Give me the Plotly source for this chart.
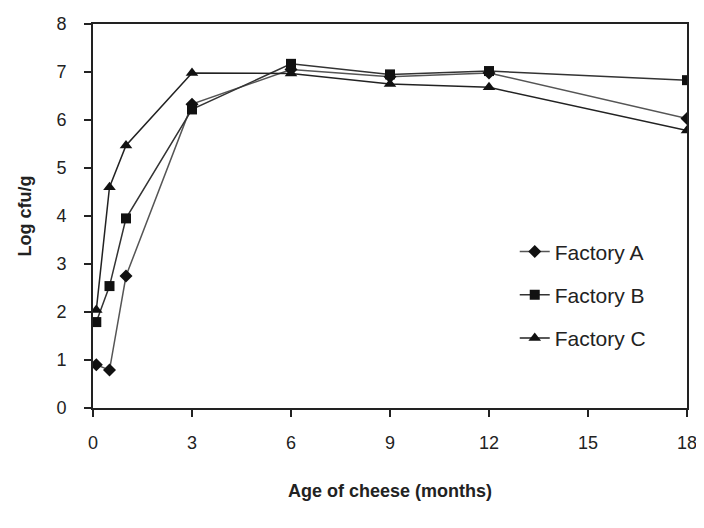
import plotly.graph_objects as go

months = [0.1, 0.5, 1, 3, 6, 9, 12, 18]
factory_a = [0.9, 0.79, 2.75, 6.33, 7.05, 6.9, 6.98, 6.03]
factory_b = [1.79, 2.54, 3.95, 6.22, 7.17, 6.95, 7.02, 6.83]
factory_c = [2.04, 4.6, 5.47, 6.98, 6.97, 6.75, 6.68, 5.78]
x_ticks = [0, 3, 6, 9, 12, 15, 18]
y_ticks = [0, 1, 2, 3, 4, 5, 6, 7, 8]

FONT = "Liberation Sans"

series = [
    ("Factory A", factory_a, "diamond", 10, "#555555"),
    ("Factory B", factory_b, "square", 10, "#333333"),
    ("Factory C", factory_c, "triangle-up", 11, "#222222"),
]

fig = go.Figure()
for name, vals, sym, size, lc in series:
    fig.add_trace(go.Scatter(
        x=months, y=vals, name=name, mode="lines+markers",
        legendgroup=name,
        line=dict(color=lc, width=1.5),
        marker=dict(symbol=sym, size=size, color="#111111"),
    ))

fig.update_layout(
    width=704, height=528,
    margin=dict(l=85, r=25, t=16, b=128, autoexpand=False),
    paper_bgcolor="white", plot_bgcolor="white",
    font=dict(family=FONT, color="#222222", size=17),
    legend=dict(
        x=0.71, y=0.46, xanchor="left", yanchor="top",
        bgcolor="rgba(0,0,0,0)", font=dict(size=21, family=FONT),
        tracegroupgap=13, traceorder="grouped",
    ),
    xaxis=dict(
        range=[0, 18], tickvals=x_ticks, ticktext=[str(t) for t in x_ticks],
        showgrid=False, zeroline=False, automargin=False,
        showline=True, linecolor="#222222", linewidth=2, mirror=True,
        ticks="outside", ticklen=7, tickcolor="#222222", tickwidth=1.5,
        ticklabelstandoff=10,
        tickfont=dict(size=18),
        title=dict(text="<b>Age of cheese (months)</b>", font=dict(size=18), standoff=33),
    ),
    yaxis=dict(
        range=[0, 8], tickvals=y_ticks, ticktext=[str(t) for t in y_ticks],
        showgrid=False, zeroline=False, automargin=False,
        showline=True, linecolor="#222222", linewidth=2, mirror=True,
        ticks="outside", ticklen=7, tickcolor="#222222", tickwidth=1.5,
        ticklabelstandoff=14,
        tickfont=dict(size=18),
        title=dict(text="<b>Log cfu/g</b>", font=dict(size=18), standoff=20),
    ),
)

fig.write_html("out.html")
